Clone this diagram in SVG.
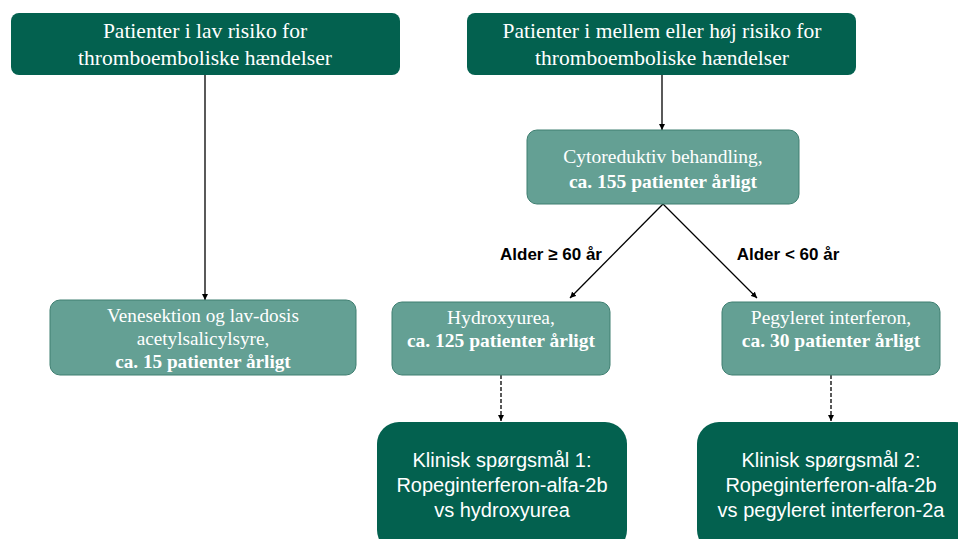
<svg xmlns="http://www.w3.org/2000/svg" width="958" height="539" viewBox="0 0 958 539">
<defs>
<style>
.dark{fill:#03614f;}
.light{fill:#64a094;stroke:#3f7f71;stroke-width:1;}
.serif{font-family:"Liberation Serif","Times New Roman",serif;fill:#ffffff;text-anchor:middle;}
.sans{font-family:"Liberation Sans",Arial,sans-serif;fill:#ffffff;text-anchor:middle;font-size:20px;}
.lbl{font-family:"Liberation Sans",Arial,sans-serif;fill:#000000;font-weight:bold;font-size:17px;text-anchor:middle;}
.b{font-weight:bold;}
.conn{stroke:#000;stroke-width:1.3;fill:none;marker-end:url(#ah);}
.dash{stroke-dasharray:4 2;}
</style>
<marker id="ah" viewBox="0 0 10 10" refX="10" refY="5" markerWidth="6" markerHeight="6" orient="auto" markerUnits="userSpaceOnUse">
<path d="M0,0 L10,5 L0,10 z" fill="#000"/>
</marker>
</defs>
<rect width="958" height="539" fill="#ffffff"/>
<g id="connectors">
<line class="conn" x1="205" y1="75" x2="205" y2="300"/>
<line class="conn" x1="662" y1="75" x2="662" y2="130"/>
<line class="conn" x1="663" y1="204" x2="570" y2="298"/>
<line class="conn" x1="663" y1="204" x2="757" y2="298"/>
<line class="conn dash" x1="501" y1="375" x2="501" y2="421"/>
<line class="conn dash" x1="831" y1="375" x2="831" y2="421"/>
</g>
<g id="low-risk">
<rect class="dark" x="11" y="13" width="389" height="62" rx="8"/>
<text class="serif" font-size="21.5" x="205" y="38">Patienter i lav risiko for</text>
<text class="serif" font-size="21.5" x="205" y="65">thromboemboliske hændelser</text>
</g>
<g id="high-risk">
<rect class="dark" x="467" y="13" width="389" height="62" rx="8"/>
<text class="serif" font-size="21.5" x="662" y="38">Patienter i mellem eller høj risiko for</text>
<text class="serif" font-size="21.5" x="662" y="65">thromboemboliske hændelser</text>
</g>
<g id="cyto">
<rect class="light" x="527" y="130" width="272" height="74" rx="10"/>
<text class="serif" font-size="19.5" x="663" y="163">Cytoreduktiv behandling,</text>
<text class="serif b" font-size="19.5" x="663" y="188">ca. 155 patienter årligt</text>
</g>
<g id="venesektion">
<rect class="light" x="50" y="300" width="306" height="75" rx="10"/>
<text class="serif" font-size="19.2" x="203" y="322">Venesektion og lav-dosis</text>
<text class="serif" font-size="19.2" x="203" y="345">acetylsalicylsyre,</text>
<text class="serif b" font-size="19.2" x="203" y="368">ca. 15 patienter årligt</text>
</g>
<g id="hydroxyurea">
<rect class="light" x="392" y="302" width="218" height="73" rx="10"/>
<text class="serif" font-size="19.5" x="501" y="324">Hydroxyurea,</text>
<text class="serif b" font-size="19.5" x="501" y="347">ca. 125 patienter årligt</text>
</g>
<g id="pegyleret">
<rect class="light" x="722" y="302" width="218" height="73" rx="10"/>
<text class="serif" font-size="19.5" x="831" y="324">Pegyleret interferon,</text>
<text class="serif b" font-size="19.5" x="831" y="347">ca. 30 patienter årligt</text>
</g>
<g id="label-ge60">
<text class="lbl" x="551" y="260">Alder ≥ 60 år</text>
</g>
<g id="label-lt60">
<text class="lbl" x="788" y="260">Alder &lt; 60 år</text>
</g>
<g id="q1">
<rect class="dark" x="377" y="422" width="250" height="130" rx="22"/>
<text class="sans" x="502" y="467">Klinisk spørgsmål 1:</text>
<text class="sans" x="502" y="492">Ropeginterferon-alfa-2b</text>
<text class="sans" x="502" y="517">vs hydroxyurea</text>
</g>
<g id="q2">
<rect class="dark" x="697" y="422" width="280" height="130" rx="22"/>
<text class="sans" x="831" y="467">Klinisk spørgsmål 2:</text>
<text class="sans" x="831" y="492">Ropeginterferon-alfa-2b</text>
<text class="sans" x="831" y="517">vs pegyleret interferon-2a</text>
</g>
</svg>
